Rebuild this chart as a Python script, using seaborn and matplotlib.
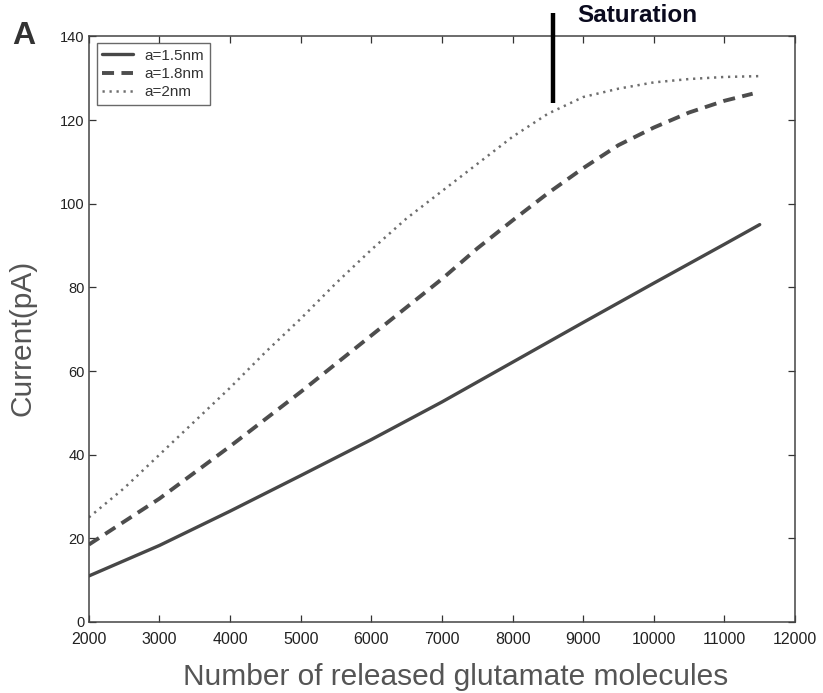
import numpy as np
import pandas as pd
import matplotlib
matplotlib.use("Agg")
import matplotlib.pyplot as plt
import seaborn as sns

# Released glutamate molecules vs. receptor current for three cleft radii
x_a15 = [2000, 3000, 4000, 5000, 6000, 7000, 8000, 9000, 10000, 11000, 11500]
y_a15 = [11.0, 18.3, 26.5, 35.0, 43.6, 52.6, 62.1, 71.6, 81.0, 90.3, 95.0]

x_a18 = [2000, 3000, 4000, 5000, 6000, 7000, 7500, 8000, 8500, 9000, 9500,
         10000, 10500, 11000, 11400]
y_a18 = [18.5, 29.5, 42.0, 55.0, 68.5, 82.0, 89.3, 96.0, 102.5, 108.5, 114.0,
         118.2, 121.8, 124.6, 126.3]

x_a20 = [2000, 2500, 3000, 3500, 4000, 4500, 5000, 5500, 6000, 6500, 7000,
         7500, 8000, 8500, 9000, 9500, 10000, 10500, 11000, 11500]
y_a20 = [25.0, 32.0, 40.0, 48.0, 56.0, 64.5, 72.5, 81.0, 89.0, 96.5, 103.0,
         109.5, 116.0, 121.5, 125.5, 127.5, 129.0, 129.8, 130.3, 130.5]

series_labels = ["a=1.5nm", "a=1.8nm", "a=2nm"]
x_ticks = [2000, 3000, 4000, 5000, 6000, 7000, 8000, 9000, 10000, 11000, 12000]
y_ticks = [0, 20, 40, 60, 80, 100, 120, 140]

# Marker for the onset of saturation
saturation_x = 8570
saturation_y = (124, 145.5)

df = pd.concat([
    pd.DataFrame({"n": x_a15, "I": y_a15, "radius": series_labels[0]}),
    pd.DataFrame({"n": x_a18, "I": y_a18, "radius": series_labels[1]}),
    pd.DataFrame({"n": x_a20, "I": y_a20, "radius": series_labels[2]}),
], ignore_index=True)

sns.set_theme(style="white")
plt.rcParams["font.family"] = ["Liberation Sans", "DejaVu Sans"]

fig = plt.figure(figsize=(8.23, 6.93), dpi=100)
ax = fig.add_axes([0.108, 0.1025, 0.858, 0.845])

palette = {series_labels[0]: "#474747", series_labels[1]: "#4d4d4d",
           series_labels[2]: "#6e6e6e"}
styles = {series_labels[0]: "-", series_labels[1]: (0, (3.1, 1.9)),
          series_labels[2]: (0, (0.9, 1.9))}
widths = {series_labels[0]: 2.4, series_labels[1]: 2.8, series_labels[2]: 1.8}

for lab in series_labels:
    sub = df[df["radius"] == lab]
    sns.lineplot(data=sub, x="n", y="I", ax=ax, color=palette[lab],
                 linestyle=styles[lab], linewidth=widths[lab], label=lab,
                 estimator=None, sort=False)

ax.set_xlim(2000, 12000)
ax.set_ylim(0, 140)
ax.set_xticks(x_ticks)
ax.set_yticks(y_ticks)
ax.set_xticklabels([str(t) for t in x_ticks], fontsize=11.5, color="#222222")
ax.set_yticklabels([str(t) for t in y_ticks], fontsize=10.5, color="#222222")
ax.tick_params(direction="in", length=5, width=0.9, color="#333333",
               top=True, right=True, bottom=True, left=True)
ax.tick_params(axis="x", pad=7)
ax.tick_params(axis="y", pad=3)
for sp in ax.spines.values():
    sp.set_color("#444444")
    sp.set_linewidth(1.1)

ax.set_xlabel("Number of released glutamate molecules", fontsize=21.5,
              color="#555555", labelpad=12)
ax.set_ylabel("Current(pA)", fontsize=21.5, color="#555555", labelpad=17)
ax.xaxis.label.set_x(0.52)
ax.yaxis.label.set_y(0.485)

leg = ax.legend(loc="upper left", fontsize=11, frameon=True, fancybox=False,
                edgecolor="#444444", handlelength=2.0, borderpad=0.35,
                labelspacing=0.28, handletextpad=0.8, borderaxespad=0.0,
                bbox_to_anchor=(0.011, 0.988))
leg.get_frame().set_linewidth(1.0)
for t in leg.get_texts():
    t.set_color("#333333")

# Saturation marker and note
ax.plot([saturation_x, saturation_x], list(saturation_y), color="black",
        linewidth=3.2, solid_capstyle="butt", clip_on=False, zorder=5)
fig.text(0.702, 0.978, "Saturation", fontsize=17.5, fontweight="bold",
         color="#0a0a1e", ha="left", va="center")

# Panel letter
fig.text(0.015, 0.948, "A", fontsize=23, fontweight="bold", color="#333333",
         ha="left", va="center")

fig.savefig("out.png", dpi=100, facecolor="white")
